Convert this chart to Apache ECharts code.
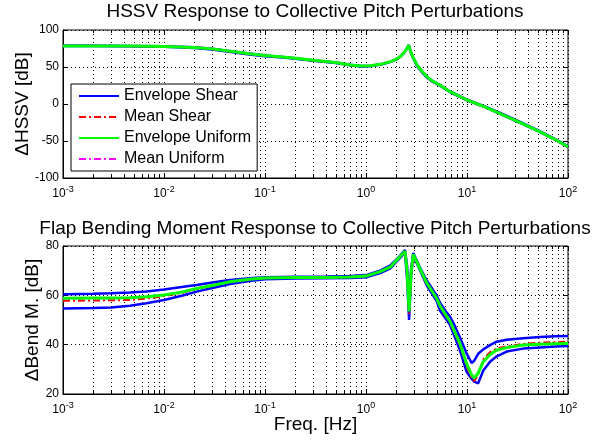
<!DOCTYPE html>
<html><head><meta charset="utf-8">
<script src="https://cdn.jsdelivr.net/npm/echarts@6/dist/echarts.min.js"></script>
<style>html,body{margin:0;padding:0;background:#fff}#c{width:595px;height:447px}</style>
</head><body><div id="c"></div>
<script>
// ---------- DATA ----------
const titleTop = 'HSSV Response to Collective Pitch Perturbations';
const titleBottom = 'Flap Bending Moment Response to Collective Pitch Perturbations';
const legendNames = ['Envelope Shear', 'Mean Shear', 'Envelope Uniform', 'Mean Uniform'];
const xDecadeExponents = [-3, -2, -1, 0, 1, 2];
const topYTicks = [-100, -50, 0, 50, 100];
const botYTicks = [20, 40, 60, 80];

// Top plot: HSSV [dB] vs frequency [Hz]
const topFreq = [0.001, 0.002, 0.005, 0.01, 0.02, 0.03, 0.05, 0.07, 0.1, 0.15, 0.2, 0.3, 0.5, 0.7, 0.9, 1.1, 1.4, 1.75, 2.0, 2.2, 2.4, 2.55, 2.65, 2.75, 2.9, 3.2, 3.6, 4.0, 4.5, 5.4, 6.8, 10, 15, 21, 30, 50, 70, 100];
const hssvEnvShearHi = [78.6, 78.6, 78.4, 78.0, 76.6, 74.6, 70.6, 68.1, 65.6, 63.6, 61.9, 59.1, 56.1, 52.9, 51.4, 51.7, 53.7, 57.3, 60.6, 64.6, 70.1, 75.6, 79.6, 72.1, 64.1, 52.8, 44.1, 37.1, 31.6, 25.7, 16.9, 5.8, -3.4, -11.8, -21.2, -35.2, -45.3, -57.2];
const hssvEnvShearLo = [78.3, 78.3, 78.1, 77.5, 75.8, 73.6, 69.5, 67.0, 64.6, 62.9, 61.3, 58.5, 55.4, 52.2, 50.8, 51.1, 53.2, 56.9, 60.2, 64.2, 69.7, 75.2, 79.2, 71.5, 63.2, 51.5, 42.6, 35.8, 30.6, 24.8, 16.2, 5.0, -4.3, -12.9, -22.3, -36.3, -46.3, -58.0];
const hssvMeanShear = [78.4, 78.4, 78.2, 77.7, 76.3, 74.2, 70.2, 67.7, 65.2, 63.3, 61.6, 58.8, 55.8, 52.6, 51.1, 51.4, 53.5, 57.1, 60.4, 64.4, 69.9, 75.4, 79.4, 71.8, 63.7, 52.4, 43.6, 36.7, 31.2, 25.3, 16.5, 5.3, -4.1, -12.7, -22.1, -36.1, -46.1, -57.8];
const hssvEnvUniform = [78.5, 78.5, 78.3, 77.8, 76.5, 74.5, 70.5, 68.0, 65.5, 63.5, 61.8, 59.0, 56.0, 52.8, 51.3, 51.6, 53.6, 57.2, 60.5, 64.5, 70.0, 75.5, 79.5, 72.0, 64.0, 52.7, 44.0, 37.0, 31.5, 25.5, 16.6, 5.4, -4.0, -12.6, -22.0, -36.0, -46.0, -57.7];
const hssvMeanUniform = [78.5, 78.5, 78.3, 77.8, 76.5, 74.5, 70.5, 68.0, 65.5, 63.5, 61.8, 59.0, 56.0, 52.8, 51.3, 51.6, 53.6, 57.2, 60.5, 64.5, 70.0, 75.5, 79.4, 72.0, 64.0, 52.7, 44.0, 37.0, 31.5, 25.5, 16.6, 5.4, -4.0, -12.6, -22.0, -36.0, -46.0, -57.7];

// Bottom plot: flap bending moment [dB] vs frequency [Hz]
const botFreq = [0.001, 0.002, 0.003, 0.0046, 0.0067, 0.01, 0.015, 0.021, 0.03, 0.045, 0.07, 0.1, 0.2, 0.4, 0.7, 1.0, 1.38, 1.73, 2.17, 2.43, 2.55, 2.67, 2.8, 2.94, 3.4, 4.0, 5.0, 5.4, 6.3, 6.8, 7.5, 8.5, 9.9, 11.1, 11.8, 12.9, 14.5, 16.9, 19.7, 24.7, 36, 53, 75, 100];
const bendEnvShearHi = [60.4, 60.6, 60.8, 61.1, 61.6, 62.4, 63.4, 64.2, 65.2, 66.2, 66.9, 67.3, 67.5, 67.6, 67.8, 68.2, 70.0, 72.0, 76.0, 78.4, 72.0, 57.0, 71.0, 77.2, 71.5, 66.0, 60.0, 57.0, 53.0, 51.3, 48.0, 43.0, 36.5, 32.6, 33.5, 36.3, 38.1, 39.8, 41.2, 42.0, 42.6, 43.1, 43.4, 43.5];
const bendEnvShearLo = [54.7, 54.9, 55.1, 55.8, 56.8, 58.1, 59.8, 61.5, 63.0, 64.6, 65.8, 66.5, 66.8, 66.9, 67.0, 67.3, 69.0, 70.8, 75.2, 77.4, 67.0, 50.0, 68.0, 76.0, 70.5, 64.0, 57.8, 53.8, 50.0, 48.0, 43.5, 37.8, 29.0, 26.2, 25.0, 24.3, 29.5, 33.1, 35.3, 37.2, 38.4, 38.9, 39.3, 39.5];
const bendMeanShear = [57.8, 57.9, 58.0, 58.1, 58.7, 59.7, 61.0, 62.6, 64.0, 65.5, 66.5, 67.0, 67.2, 67.3, 67.5, 67.9, 69.6, 71.5, 75.8, 78.0, 70.0, 52.5, 69.0, 76.6, 71.0, 64.8, 58.6, 55.5, 51.0, 49.0, 45.0, 40.0, 31.5, 26.4, 25.2, 27.8, 34.0, 37.0, 38.5, 39.3, 40.3, 40.8, 41.0, 41.2];
const bendEnvUniform = [58.8, 58.9, 58.9, 59.0, 59.4, 60.1, 61.3, 62.8, 64.0, 65.5, 66.5, 67.0, 67.2, 67.2, 67.4, 67.8, 69.6, 71.4, 75.7, 77.9, 70.0, 53.5, 69.5, 76.6, 71.0, 65.0, 58.8, 55.8, 51.5, 49.5, 45.5, 40.5, 32.4, 27.8, 26.4, 28.5, 33.1, 36.0, 37.8, 38.8, 39.9, 40.2, 40.4, 40.5];
const bendMeanUniform = [58.7, 58.8, 58.8, 58.9, 59.3, 60.0, 61.2, 62.7, 64.0, 65.5, 66.5, 67.0, 67.2, 67.2, 67.4, 67.8, 69.6, 71.4, 75.7, 77.9, 70.0, 53.5, 69.5, 76.6, 71.0, 65.0, 58.8, 55.8, 51.5, 49.5, 45.5, 40.5, 32.3, 27.6, 26.3, 28.5, 33.1, 36.0, 37.8, 38.8, 39.9, 40.2, 40.4, 40.5];

// ---------- CHART ----------
const FONT = "'Liberation Sans', Arial, Helvetica, sans-serif";
const pts = (freq, vals) => freq.map((f, i) => [Math.log10(f), vals[i]]);
const minorX = [];
for (let n = -3; n <= 1; n++) for (let k = 2; k <= 9; k++) minorX.push(n + Math.log10(k));
const majorX = xDecadeExponents.slice();

function xAxisCfg(gridIndex, withName) {
  return {
    gridIndex, type: 'value', min: -3, max: 2, interval: 1,
    axisLine: { show: true, onZero: false, lineStyle: { color: '#000', width: 1 } },
    axisTick: { show: true, inside: true, length: 5, lineStyle: { color: '#000' } },
    axisLabel: {
      show: true, margin: 7, showMinLabel: true, showMaxLabel: true, color: '#000',
      fontFamily: FONT, hideOverlap: false,
      formatter: v => '{b|10}{s|' + Math.round(v) + '}',
      rich: {
        b: { fontSize: 12, fontFamily: FONT, color: '#000', padding: [5, 0, 0, 0], lineHeight: 12 },
        s: { fontSize: 9, fontFamily: FONT, color: '#000', verticalAlign: 'top', lineHeight: 9 }
      }
    },
    splitLine: { show: true, lineStyle: { color: '#000', width: 1, type: [1, 3] } },
    name: withName ? 'Freq. [Hz]' : '',
    nameLocation: 'middle', nameGap: 21, nameMoveOverlap: false,
    nameTextStyle: { fontSize: 19, fontFamily: FONT, color: '#000' }
  };
}
function yAxisCfg(gridIndex, min, max, interval, name, nameGap) {
  return {
    gridIndex, type: 'value', min, max, interval,
    axisLine: { show: true, onZero: false, lineStyle: { color: '#000', width: 1 } },
    axisTick: { show: true, inside: true, length: 5, lineStyle: { color: '#000' } },
    axisLabel: { show: true, margin: 4, fontSize: 12, fontFamily: FONT, color: '#000' },
    splitLine: { show: true, lineStyle: { color: '#000', width: 1, type: [1, 3] } },
    name, nameLocation: 'middle', nameGap, nameRotate: 90, nameMoveOverlap: false,
    nameTextStyle: { fontSize: 19, fontFamily: FONT, color: '#000' }
  };
}
function decor(axisIdx, yMin, yMax, yTicks) {
  return {
    type: 'custom', xAxisIndex: axisIdx, yAxisIndex: axisIdx, silent: true, z: 1,
    clip: false, data: [[0, yMin]], encode: { x: 0, y: 1 },
    renderItem: (params, api) => {
      const ch = [];
      const ln = (x1, y1, x2, y2, dash) => ch.push({
        type: 'line', shape: { x1, y1, x2, y2 },
        style: { stroke: '#000', lineWidth: 1, lineDash: dash || null }
      });
      minorX.forEach(x => {
        const b = api.coord([x, yMin]), t = api.coord([x, yMax]);
        const px = Math.round(b[0]) + 0.5;
        ln(px, t[1], px, b[1], [1, 3]);
        ln(px, b[1], px, b[1] - 3);
        ln(px, t[1], px, t[1] + 3);
      });
      majorX.forEach(x => {
        const t = api.coord([x, yMax]);
        const px = Math.round(t[0]) + 0.5;
        ln(px, t[1], px, t[1] + 5);
      });
      yTicks.forEach(y => {
        const r = api.coord([2, y]);
        const py = Math.round(r[1]) + 0.5;
        ln(r[0], py, r[0] - 5, py);
      });
      return { type: 'group', children: ch };
    }
  };
}
function lineSeries(name, axisIdx, freq, vals, color, width, dash, z) {
  return {
    type: 'line', name, xAxisIndex: axisIdx, yAxisIndex: axisIdx,
    data: pts(freq, vals), symbol: 'none', showSymbol: false, silent: true,
    lineStyle: { color, width, type: dash || 'solid' }, itemStyle: { color },
    emphasis: { disabled: true }, z
  };
}
const BLUE = '#0000ff', RED = '#ff0000', GREEN = '#00ff00', MAG = '#ff00ff';
const DASHDOT = [7, 3, 2, 3];

const option = {
  animation: false,
  backgroundColor: '#fff',
  title: [
    { text: titleTop, left: 315, top: 2, textAlign: 'center', padding: 0,
      textStyle: { fontSize: 19, fontWeight: 'normal', fontFamily: FONT, color: '#000' } },
    { text: titleBottom, left: 315, top: 219, textAlign: 'center', padding: 0,
      textStyle: { fontSize: 19, fontWeight: 'normal', fontFamily: FONT, color: '#000' } }
  ],
  legend: {
    data: legendNames, orient: 'vertical', left: 71, top: 84,
    padding: [4, 6, 4, 7], itemGap: 5, itemWidth: 40, itemHeight: 16,
    selectedMode: false, backgroundColor: '#fff', borderColor: '#000', borderWidth: 1,
    borderRadius: 0,
    itemStyle: { opacity: 0 },
    textStyle: { fontSize: 16, fontFamily: FONT, color: '#000' }
  },
  grid: [
    { left: 63, top: 30, width: 505, height: 148, containLabel: false, outerBoundsMode: 'none',
      show: true, borderColor: '#000', borderWidth: 1, backgroundColor: '#fff' },
    { left: 63, top: 246, width: 505, height: 148, containLabel: false, outerBoundsMode: 'none',
      show: true, borderColor: '#000', borderWidth: 1, backgroundColor: '#fff' }
  ],
  xAxis: [xAxisCfg(0, false), xAxisCfg(1, true)],
  yAxis: [
    yAxisCfg(0, -100, 100, 50, '\u0394HSSV [dB]', 31),
    yAxisCfg(1, 20, 80, 20, '\u0394Bend M. [dB]', 21)
  ],
  series: [
    decor(0, -100, 100, topYTicks),
    decor(1, 20, 80, botYTicks),
    lineSeries(legendNames[0], 0, topFreq, hssvEnvShearHi, BLUE, 2.5, null, 3),
    lineSeries(legendNames[0], 0, topFreq, hssvEnvShearLo, BLUE, 2.5, null, 3),
    lineSeries(legendNames[1], 0, topFreq, hssvMeanShear, RED, 2, DASHDOT, 4),
    lineSeries(legendNames[3], 0, topFreq, hssvMeanUniform, MAG, 2, DASHDOT, 4),
    lineSeries(legendNames[2], 0, topFreq, hssvEnvUniform, GREEN, 3, null, 5),
    lineSeries(legendNames[0], 1, botFreq, bendEnvShearHi, BLUE, 2.5, null, 3),
    lineSeries(legendNames[0], 1, botFreq, bendEnvShearLo, BLUE, 2.5, null, 3),
    lineSeries(legendNames[3], 1, botFreq, bendMeanUniform, MAG, 2, DASHDOT, 4),
    lineSeries(legendNames[1], 1, botFreq, bendMeanShear, RED, 2, DASHDOT, 4),
    lineSeries(legendNames[2], 1, botFreq, bendEnvUniform, GREEN, 3, null, 5)
  ]
};
const chart = echarts.init(document.getElementById('c'), null, { renderer: 'canvas' });
chart.setOption(option);
</script>
</body></html>
